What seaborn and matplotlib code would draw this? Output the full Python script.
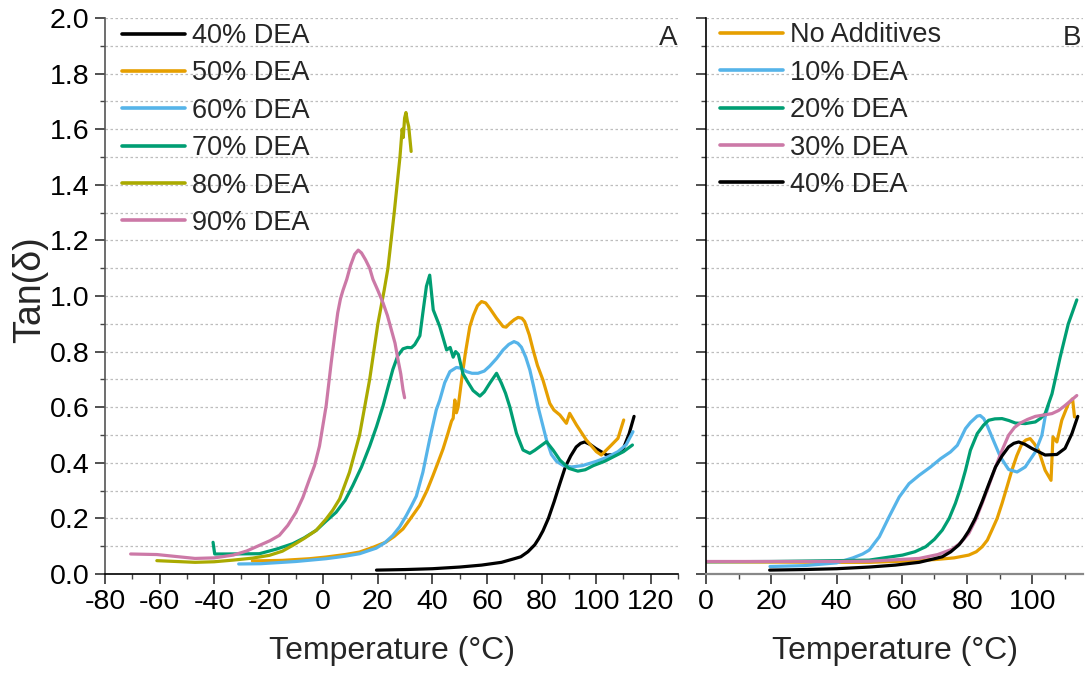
import numpy as np
import pandas as pd
import matplotlib
matplotlib.use("Agg")
import matplotlib.pyplot as plt
from matplotlib.ticker import MultipleLocator
import seaborn as sns

# ---------------- data ----------------
# Panel A
t40 = [19.5, 30, 40, 50, 58, 65.3, 70, 72.4, 75, 77.5, 79, 80.5, 82.5, 84.6, 86.7, 88.7, 90.7,
       92.7, 94.3, 95.8, 97.8, 99.8, 103.9, 107.5, 110, 112.1, 113.9]
d40 = [0.014, 0.016, 0.019, 0.025, 0.032, 0.042, 0.055, 0.062, 0.08, 0.105, 0.128, 0.155, 0.2,
       0.26, 0.325, 0.385, 0.425, 0.457, 0.47, 0.475, 0.466, 0.452, 0.428, 0.43, 0.452, 0.505, 0.567]

t50 = [-26, -15, -5, 1, 8, 13.3, 18, 23, 26, 29.2, 32, 35.3, 38, 40.2, 42, 43.9, 45.5, 47, 47.6,
       48.2, 48.8, 49.4, 50.7, 52, 53.7, 55, 56.5, 58, 59.5, 61, 63.5, 65.9, 67, 68.4, 70, 71.4,
       72.8, 73.8, 75.5, 76.9, 78.5, 80.5, 83, 84.5, 86.7, 89.1, 90.3, 92.8, 96.4, 100.1, 101.9,
       105, 108, 110.1]
d50 = [0.047, 0.049, 0.055, 0.061, 0.07, 0.079, 0.095, 0.115, 0.135, 0.162, 0.2, 0.246, 0.3,
       0.354, 0.40, 0.45, 0.50, 0.55, 0.56, 0.626, 0.58, 0.6, 0.698, 0.79, 0.89, 0.93, 0.965,
       0.98, 0.975, 0.956, 0.92, 0.89, 0.888, 0.902, 0.915, 0.923, 0.92, 0.908, 0.86, 0.806,
       0.75, 0.698, 0.614, 0.59, 0.572, 0.542, 0.578, 0.536, 0.482, 0.44, 0.428, 0.458, 0.488, 0.554]

t60 = [-31, -23, -10, 1, 8, 13.3, 19.4, 22.5, 25.5, 28, 30.4, 32.3, 34.1, 36.5, 39, 41.4, 42.7,
       44.5, 46.4, 48.8, 50.5, 52.5, 54.5, 56.7, 59, 61, 63.5, 65.9, 68, 69.9, 71.3, 72.6, 74.2,
       75.7, 77.2, 78.7, 80.3, 81.8, 83.6, 85.5, 88, 91, 95, 100, 104, 108, 111, 113.5]
d60 = [0.036, 0.037, 0.045, 0.055, 0.064, 0.073, 0.093, 0.112, 0.139, 0.17, 0.21, 0.245, 0.28,
       0.366, 0.485, 0.59, 0.626, 0.688, 0.728, 0.743, 0.74, 0.728, 0.722, 0.722, 0.73, 0.748,
       0.775, 0.806, 0.826, 0.836, 0.83, 0.816, 0.78, 0.734, 0.67, 0.602, 0.54, 0.482, 0.43,
       0.405, 0.39, 0.385, 0.39, 0.405, 0.42, 0.44, 0.465, 0.512]

t70 = [-40.4, -39.8, -35, -23.4, -17, -11.2, -7, -2.6, 1, 4.7, 8, 10.8, 14, 17, 19.5, 21.9,
       23.8, 25.5, 27.3, 29.2, 30.8, 32.3, 33.5, 34.7, 35.4, 36.5, 37.8, 39.0, 40.3, 42.7, 45.2,
       46.5, 47.6, 48.5, 49.5, 51.2, 53, 54.9, 57.4, 59, 61, 63.5, 65.3, 66.8, 68.4, 70.8, 73.2,
       75.7, 77.5, 79.3, 81.8, 84.2, 86.7, 90, 93.3, 96, 99, 103, 106, 110, 113.3]
d70 = [0.114, 0.072, 0.072, 0.073, 0.09, 0.109, 0.13, 0.157, 0.19, 0.222, 0.265, 0.318, 0.385,
       0.46, 0.53, 0.605, 0.675, 0.736, 0.785, 0.81, 0.815, 0.814, 0.825, 0.845, 0.857, 0.94,
       1.035, 1.075, 0.95, 0.89, 0.806, 0.815, 0.78, 0.8, 0.79, 0.72, 0.69, 0.66, 0.64, 0.655,
       0.686, 0.722, 0.686, 0.65, 0.60, 0.506, 0.446, 0.434, 0.445, 0.458, 0.476, 0.446, 0.41,
       0.38, 0.37, 0.375, 0.39, 0.405, 0.42, 0.44, 0.464]

t80 = [-61, -47, -40, -33, -26, -19.8, -15, -11.2, -7, -2.6, 1.05, 3.5, 6, 9.6, 13.3, 17, 20,
       22.3, 23.7, 26, 28.1, 28.9, 29.3, 29.8, 30.3, 30.8, 31.3, 31.8, 32.2]
d80 = [0.048, 0.042, 0.044, 0.05, 0.057, 0.067, 0.082, 0.103, 0.128, 0.157, 0.198, 0.23, 0.27,
       0.366, 0.50, 0.70, 0.90, 1.02, 1.10, 1.30, 1.50, 1.60, 1.57, 1.64, 1.66, 1.63, 1.61,
       1.56, 1.52]

t90 = [-70.6, -61, -54, -47, -40, -33, -28, -23.4, -19.5, -16.1, -13, -10, -7.5, -5.1, -3.2,
       -1.4, 1.05, 2.9, 4.2, 5.3, 6.3, 7.2, 8.6, 10, 11.5, 12.8, 14, 15.5, 17, 18.2, 20, 21.9,
       23.5, 24.9, 26.3, 27.4, 28.4, 29.2, 29.8]
d90 = [0.072, 0.07, 0.063, 0.056, 0.058, 0.068, 0.083, 0.103, 0.12, 0.139, 0.175, 0.222, 0.275,
       0.34, 0.39, 0.46, 0.605, 0.76, 0.86, 0.94, 0.99, 1.02, 1.06, 1.11, 1.15, 1.165, 1.155,
       1.13, 1.10, 1.06, 1.02, 0.975, 0.93, 0.88, 0.83, 0.77, 0.72, 0.664, 0.634]

# Panel B
t00 = [0, 20, 40, 50, 60, 70.3, 76, 80.5, 82.8, 84.6, 86.2, 87.6, 89.2, 90.7, 92.2, 93.7, 95.2,
       96.8, 98, 99.3, 100.5, 101.9, 103.9, 105.7, 106.3, 107.5, 109, 111, 112.3, 112.9]
d00 = [0.044, 0.043, 0.042, 0.042, 0.046, 0.052, 0.058, 0.068, 0.08, 0.098, 0.122, 0.158, 0.2,
       0.254, 0.313, 0.373, 0.425, 0.469, 0.482, 0.487, 0.47, 0.445, 0.373, 0.337, 0.493,
       0.475, 0.553, 0.612, 0.63, 0.565]

t10 = [19.6, 30, 40, 45, 48, 50, 53.1, 56.1, 59.2, 62.2, 65.3, 68.8, 71.9, 74.9, 77, 79.5, 81,
       83.1, 84, 85.1, 86.3, 87.6, 90.2, 92.7, 95.3, 97.8, 100.9, 102.9, 103.9, 104.9]
d10 = [0.027, 0.03, 0.04, 0.058, 0.072, 0.086, 0.134, 0.206, 0.277, 0.325, 0.355, 0.385, 0.415,
       0.439, 0.463, 0.523, 0.545, 0.568, 0.57, 0.559, 0.53, 0.493, 0.421, 0.376, 0.367, 0.385,
       0.439, 0.499, 0.565, 0.606]

t20 = [0, 20, 40, 50, 60.2, 64, 67.3, 70, 72.4, 74.5, 76.4, 78, 79.5, 81, 83.1, 85, 86.6, 88.5,
       90.7, 92.8, 94.8, 97.8, 100.9, 102.5, 103.9, 106, 108.5, 111, 113.6]
d20 = [0.044, 0.045, 0.048, 0.05, 0.068, 0.08, 0.098, 0.125, 0.158, 0.2, 0.254, 0.31, 0.373,
       0.445, 0.505, 0.535, 0.553, 0.558, 0.559, 0.552, 0.543, 0.541, 0.547, 0.56, 0.577,
       0.648, 0.78, 0.9, 0.986]

t30 = [0, 20, 40, 50, 65.3, 71, 75.4, 78, 80.5, 82.6, 84.6, 86.7, 88.7, 90.7, 92.7, 94.5, 96.3,
       98.5, 100.9, 103.5, 106, 108, 110, 113.6]
d30 = [0.045, 0.045, 0.045, 0.046, 0.056, 0.07, 0.089, 0.112, 0.146, 0.195, 0.254, 0.32, 0.385,
       0.445, 0.499, 0.527, 0.543, 0.556, 0.567, 0.572, 0.577, 0.588, 0.606, 0.642]

labels_a = ["40% DEA", "50% DEA", "60% DEA", "70% DEA", "80% DEA", "90% DEA"]
labels_b = ["No Additives", "10% DEA", "20% DEA", "30% DEA", "40% DEA"]
xticks_a = [-80, -60, -40, -20, 0, 20, 40, 60, 80, 100, 120]
xticks_b = [0, 20, 40, 60, 80, 100]
yticks = [0.0, 0.2, 0.4, 0.6, 0.8, 1.0, 1.2, 1.4, 1.6, 1.8, 2.0]

# ---------------- style ----------------
sns.set_theme(style="white")
plt.rcParams['font.family'] = ['Liberation Sans', 'DejaVu Sans']
plt.rcParams['axes.unicode_minus'] = False

C_BLACK = "#000000"
C_ORANGE = "#E69F00"
C_SKY = "#56B4E9"
C_GREEN = "#009E73"
C_OLIVE = "#AAAA00"
C_PINK = "#CC79A7"

fig = plt.figure(figsize=(10.86, 6.81), dpi=100)
axA = fig.add_axes([105 / 1086, 1 - 574 / 681, 573 / 1086, 556 / 681])
axB = fig.add_axes([706 / 1086, 1 - 574 / 681, 377 / 1086, 556 / 681])

LW = 2.3
series_a = [(t40, d40, C_BLACK), (t50, d50, C_ORANGE), (t60, d60, C_SKY),
            (t70, d70, C_GREEN), (t80, d80, C_OLIVE), (t90, d90, C_PINK)]
for (t, d, c), lab in zip(series_a, labels_a):
    sns.lineplot(x=t, y=d, ax=axA, color=c, lw=LW, label=lab, sort=False, estimator=None)

series_b = [(t00, d00, C_ORANGE), (t10, d10, C_SKY), (t20, d20, C_GREEN),
            (t30, d30, C_PINK), (t40, d40, C_BLACK)]
for (t, d, c), lab in zip(series_b, labels_b):
    sns.lineplot(x=t, y=d, ax=axB, color=c, lw=LW, label=lab, sort=False, estimator=None)

TICK_FS = 20.5
for ax, xl, xt in [(axA, (-80, 130), xticks_a), (axB, (0, 115.5), xticks_b)]:
    ax.set_xlim(*xl)
    ax.set_ylim(0, 2.0)
    ax.set_xticks(xt)
    ax.set_yticks(yticks)
    ax.xaxis.set_minor_locator(MultipleLocator(10))
    ax.yaxis.set_minor_locator(MultipleLocator(0.1))
    ax.grid(axis='y', which='both', ls=(0, (2, 2)), color='#bdbdbd', lw=0.9)
    ax.grid(axis='x', which='both', visible=False)
    ax.set_axisbelow(True)
    ax.tick_params(which='major', direction='out', length=7, width=1.1,
                   labelsize=TICK_FS, pad=4, bottom=True, left=True, colors='#222222',
                   labelcolor='black')
    ax.tick_params(which='minor', direction='out', length=3.5, width=1.0,
                   bottom=True, left=True, colors='#444444')
    for s in ['top', 'right']:
        ax.spines[s].set_visible(False)
    ax.set_xlabel("Temperature (°C)", fontsize=23)
    ax.xaxis.set_label_coords(0.5, -0.112)
    ax.set_ylabel("")

axA.set_yticklabels([f"{v:.1f}" for v in yticks])
axA.set_xticklabels([str(v) for v in xticks_a])
axB.set_xticklabels([str(v) for v in xticks_b])
axB.tick_params(axis='y', labelleft=False)

axA.spines['left'].set_color('#555555')
axA.spines['bottom'].set_color('black')
axA.spines['left'].set_linewidth(1.2)
axA.spines['bottom'].set_linewidth(1.2)
axB.spines['left'].set_color('black')
axB.spines['bottom'].set_color('#888888')
axB.spines['left'].set_linewidth(1.2)
axB.spines['bottom'].set_linewidth(1.6)

axA.set_ylabel("Tan(δ)", fontsize=27)
axA.yaxis.set_label_coords(-0.099, 0.511)

axA.text(0.9825, 0.964, "A", transform=axA.transAxes, fontsize=20, ha='center', va='center')
axB.text(0.971, 0.964, "B", transform=axB.transAxes, fontsize=20, ha='center', va='center')

leg_kw = dict(frameon=False, fontsize=19.5, handlelength=2.33, handletextpad=0.26,
              labelspacing=0.42, borderpad=0, borderaxespad=0, loc='upper left')
legA = axA.legend(bbox_to_anchor=(0.0297, 0.991), **leg_kw)
legB = axB.legend(bbox_to_anchor=(0.037, 0.992), **leg_kw)
for leg in (legA, legB):
    for h in leg.get_lines():
        h.set_linewidth(2.6)

fig.savefig("out.png", dpi=100)
